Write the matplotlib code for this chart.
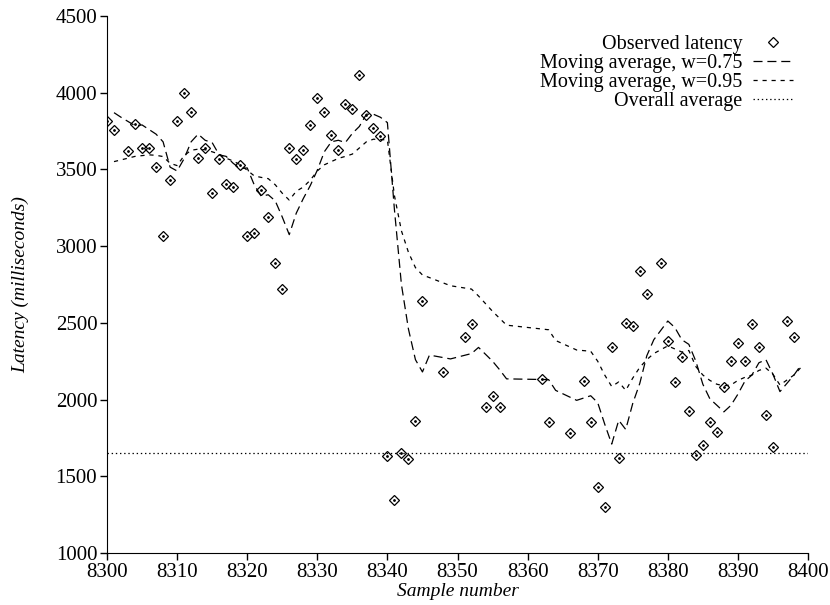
import matplotlib
matplotlib.use("Agg")
import matplotlib.pyplot as plt
from matplotlib.lines import Line2D

# observed samples (sample number, latency in ms)
sample_x = [8300, 8301, 8303, 8304, 8305, 8306, 8307, 8308, 8309, 8310,
            8311, 8312, 8313, 8314, 8315, 8316, 8317, 8318, 8319, 8320,
            8321, 8322, 8323, 8324, 8325, 8326, 8327, 8328, 8329, 8330,
            8331, 8332, 8333, 8334, 8335, 8336, 8337, 8338, 8339, 8340,
            8341, 8342, 8343, 8344, 8345, 8348, 8351, 8352, 8354, 8355,
            8356, 8362, 8363, 8366, 8368, 8369, 8370, 8371, 8372, 8373,
            8374, 8375, 8376, 8377, 8379, 8380, 8381, 8382, 8383, 8384,
            8385, 8386, 8387, 8388, 8389, 8390, 8391, 8392, 8393, 8394,
            8395, 8397, 8398]
latency = [3816, 3758, 3619, 3799, 3638, 3638, 3518, 3068, 3429, 3816,
           3997, 3877, 3577, 3638, 3347, 3568, 3408, 3386, 3532, 3068,
           3088, 3369, 3188, 2888, 2719, 3638, 3567, 3628, 3788, 3968,
           3877, 3727, 3628, 3927, 3897, 4116, 3857, 3768, 3716, 1632,
           1345, 1654, 1611, 1860, 2641, 2180, 2408, 2493, 1954, 2021,
           1954, 2132, 1852, 1782, 2119, 1852, 1432, 1302, 2343, 1621,
           2501, 2478, 2840, 2690, 2890, 2382, 2113, 2277, 1928, 1641,
           1702, 1852, 1791, 2082, 2249, 2369, 2249, 2491, 2341, 1902,
           1691, 2512, 2410]

# moving averages, plotted one step after each sample
ma_x = [8301, 8302, 8304, 8305, 8306, 8307, 8308, 8309, 8310, 8311,
        8312, 8313, 8314, 8315, 8316, 8317, 8318, 8319, 8320, 8321,
        8322, 8323, 8324, 8325, 8326, 8327, 8328, 8329, 8330, 8331,
        8332, 8333, 8334, 8335, 8336, 8337, 8338, 8339, 8340, 8341,
        8342, 8343, 8344, 8345, 8346, 8349, 8352, 8353, 8355, 8356,
        8357, 8363, 8364, 8367, 8369, 8370, 8371, 8372, 8373, 8374,
        8375, 8376, 8377, 8378, 8380, 8381, 8382, 8383, 8384, 8385,
        8386, 8387, 8388, 8389, 8390, 8391, 8392, 8393, 8394, 8395,
        8396, 8398, 8399]
ma_075 = [3870, 3840, 3785, 3790, 3760, 3730, 3680, 3515, 3490, 3570,
          3680, 3730, 3690, 3675, 3595, 3585, 3540, 3505, 3510, 3400,
          3325, 3335, 3295, 3190, 3075, 3215, 3310, 3395, 3495, 3615,
          3680, 3690, 3675, 3735, 3780, 3860, 3860, 3840, 3805, 3240,
          2750, 2460, 2260, 2180, 2290, 2265, 2300, 2340, 2250, 2195,
          2135, 2130, 2060, 1995, 2025, 1980, 1840, 1710, 1865, 1805,
          1975, 2105, 2285, 2390, 2512, 2470, 2390, 2360, 2250, 2100,
          2005, 1963, 1920, 1962, 2035, 2120, 2160, 2240, 2260, 2165,
          2052, 2160, 2225]
ma_095 = [3551, 3562, 3585, 3590, 3595, 3592, 3584, 3540, 3525, 3590,
          3625, 3632, 3628, 3615, 3600, 3573, 3555, 3530, 3495, 3458,
          3448, 3440, 3400, 3345, 3300, 3358, 3385, 3430, 3490, 3530,
          3551, 3572, 3585, 3600, 3640, 3680, 3697, 3695, 3692, 3330,
          3100, 2960, 2860, 2812, 2795, 2742, 2720, 2675, 2575, 2530,
          2485, 2455, 2385, 2323, 2315, 2250, 2160, 2085, 2115, 2060,
          2140, 2210, 2260, 2300, 2350, 2330, 2310, 2320, 2215, 2160,
          2125, 2100, 2090, 2095, 2125, 2145, 2160, 2190, 2205, 2165,
          2095, 2160, 2210]

overall_avg = 1655

plt.rcParams['font.family'] = ['Liberation Serif', 'DejaVu Serif']
plt.rcParams['lines.scale_dashes'] = False

fig = plt.figure(figsize=(8.3, 6.05), dpi=100)
ax = fig.add_axes([107/830, 1 - 553/605, 701/830, 537/605])

ax.plot(sample_x, latency, linestyle='none', marker='D', ms=5.4,
        mfc='none', mec='black', mew=0.9)
ax.plot(sample_x, latency, linestyle='none', marker='o', ms=1.0,
        color='black')
ax.plot(ma_x, ma_075, color='black', lw=0.9, dashes=(6.5, 3.5))
ax.plot(ma_x, ma_095, color='black', lw=0.9, dashes=(3.0, 3.5))
ax.axhline(overall_avg, color='black', lw=0.9, dashes=(1.0, 2.0))

ax.set_xlim(8300, 8400)
ax.set_ylim(1000, 4500)
ax.set_xticks(range(8300, 8401, 10))
ax.set_yticks(range(1000, 4501, 500))
ax.spines['top'].set_visible(False)
ax.spines['right'].set_visible(False)
ax.tick_params(direction='out', length=5, width=1, labelsize=15, pad=2)

ax.set_xlabel('Sample number', fontsize=14, style='italic', labelpad=1)
ax.set_ylabel('Latency (milliseconds)', fontsize=14, style='italic', labelpad=19)

handles = [
    Line2D([], [], linestyle='none', marker='D', ms=5.4, mfc='none',
           mec='black', mew=0.9),
    Line2D([], [], color='black', lw=0.9, dashes=(6.5, 3.5)),
    Line2D([], [], color='black', lw=0.9, dashes=(3.0, 3.5)),
    Line2D([], [], color='black', lw=0.9, dashes=(1.0, 2.0)),
]
labels = ['Observed latency', 'Moving average, w=0.75',
          'Moving average, w=0.95', 'Overall average']
ax.legend(handles, labels, loc='upper right', markerfirst=False,
          frameon=False, fontsize=14.5, handlelength=2.0,
          handletextpad=0.5, labelspacing=0.0, borderpad=0,
          borderaxespad=0, numpoints=1,
          bbox_to_anchor=(793/830, 1 - 35/605),
          bbox_transform=fig.transFigure)

fig.savefig('out.png', dpi=100)
